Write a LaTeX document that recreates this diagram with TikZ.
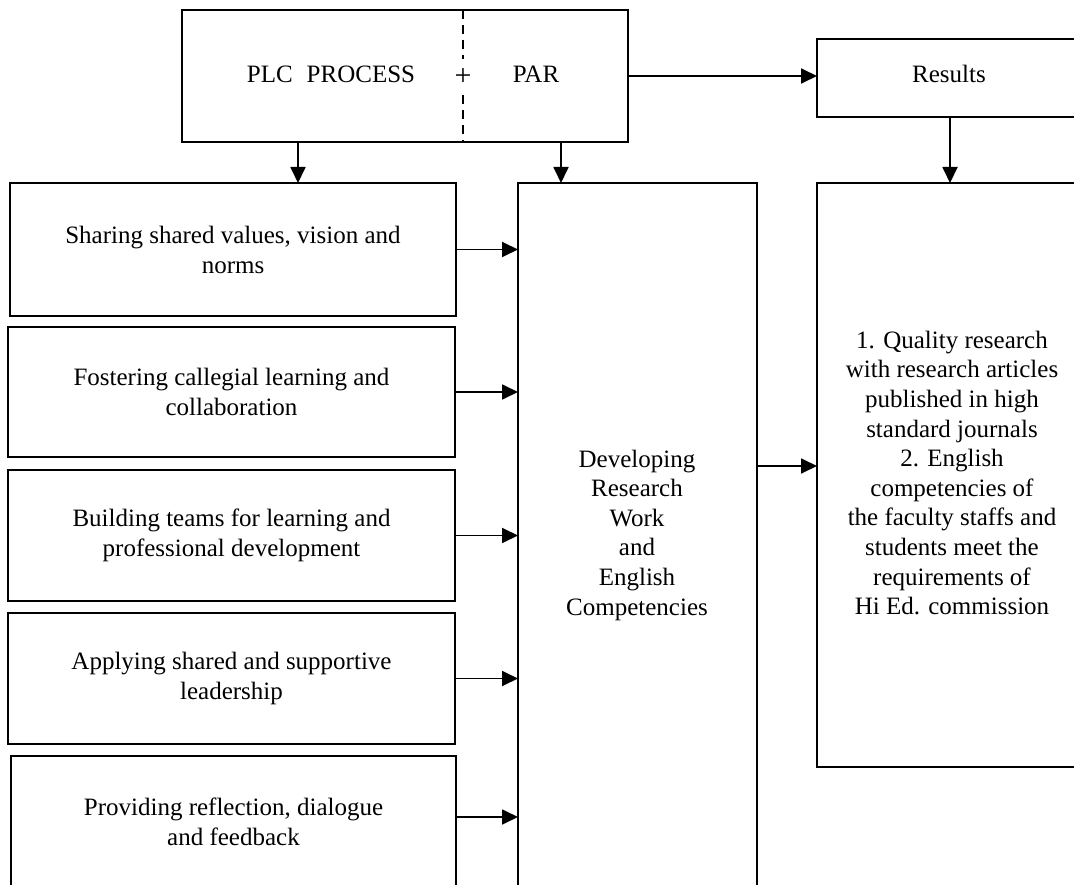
\documentclass[tikz,border=0pt]{standalone}
\usepackage{fontspec}
\setmainfont{Liberation Serif}
\usetikzlibrary{arrows.meta}
\begin{document}
\begin{tikzpicture}[x=1pt,y=-1pt,
  box/.style={draw, line width=1.8pt, inner sep=0pt, outer sep=0pt,
    font=\fontsize{25pt}{30pt}\selectfont, align=center},
  txt/.style={font=\fontsize{25pt}{29.6pt}\selectfont, align=center, inner sep=0pt},
  arr/.style={-{Triangle[length=16pt,width=15pt]}, line width=1.8pt},
  dashln/.style={line width=1.5pt, dash pattern=on 9pt off 6pt}]
\useasboundingbox (0,0) rectangle (1074,885);
\clip (0,0) rectangle (1074,885);
\fill[white] (0,0) rectangle (1074,885);
% top box
\node[box, minimum width=446pt, minimum height=132pt] (top) at (405,76) {};
\node[txt, anchor=base] (plc) at (331,83) {PLC\hspace{14pt}PROCESS};
\node[txt, minimum height=36pt, font=\fontsize{30pt}{30pt}\selectfont] (plus) at (463,77) {+};
\node[txt, anchor=base] (par) at (536,83) {PAR};
\draw[dashln] (top.north -| plus) -- (plus.north);
\draw[dashln] (plus.south) -- (top.south -| plus);
% results
\node[box, minimum width=266pt, minimum height=78pt] (res) at (950,78) {};
\node[txt, anchor=base] (restxt) at (949,83) {Results};
% left boxes
\node[box, minimum width=446pt, minimum height=133pt] (b1) at (233,249.5) {Sharing shared values, vision and\\norms};
\node[box, minimum width=447pt, minimum height=130pt] (b2) at (231.5,392) {Fostering callegial learning and\\collaboration};
\node[box, minimum width=447pt, minimum height=131pt] (b3) at (231.5,535.5) {Building teams for learning and\\professional development};
\node[box, minimum width=447pt, minimum height=131pt] (b4) at (231.5,678.5) {Applying shared and supportive\\leadership};
\node[box, minimum width=445pt, minimum height=132pt] (b5) at (233.5,822) {Providing reflection, dialogue\\and feedback};
% middle box
\node[box, minimum width=239pt, minimum height=717pt] (mid) at (637.5,541.5) {};
\node[txt] (midtxt) at (637,535) {Developing\\Research\\Work\\and\\English\\Competencies};
% right box
\node[box, minimum width=270pt, minimum height=584pt] (rb) at (952,475) {};
\node[txt] (rbtxt) at (952,473) {1. Quality research\\with research articles\\published in high\\standard journals\\2. English\\competencies of\\the faculty staffs and\\students meet the\\requirements of\\Hi Ed. commission};
% connectors
\coordinate (ax1) at (298,0);
\coordinate (ax2) at (561,0);
\coordinate (ay5) at (0,817);
\coordinate (aym) at (0,466);
\draw[arr] (top.south -| ax1) -- (b1.north -| ax1);
\draw[arr] (top.south -| ax2) -- (mid.north -| ax2);
\draw[arr] (top.east) -- (res.west |- top.east);
\draw[arr] (res.south) -- (rb.north -| res.south);
\draw[arr] (b1.east) -- (mid.west |- b1.east);
\draw[arr] (b2.east) -- (mid.west |- b2.east);
\draw[arr] (b3.east) -- (mid.west |- b3.east);
\draw[arr] (b4.east) -- (mid.west |- b4.east);
\draw[arr] (b5.east |- ay5) -- (mid.west |- ay5);
\draw[arr] (mid.east |- aym) -- (rb.west |- aym);
\end{tikzpicture}
\end{document}
